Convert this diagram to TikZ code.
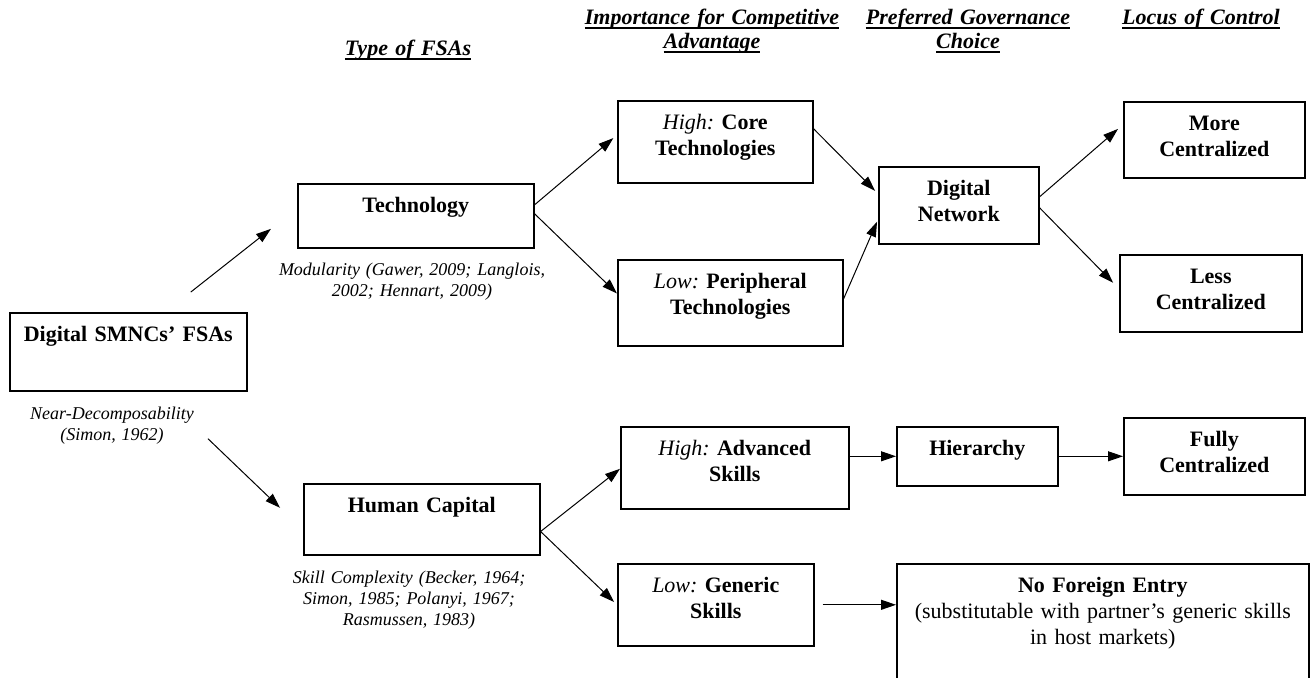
\documentclass[tikz,border=0pt]{standalone}
\usepackage{fontspec}
\setmainfont{Liberation Serif}
\usetikzlibrary{arrows.meta}
\frenchspacing

\newsavebox{\hdbox}
\newcommand{\hd}[1]{\leavevmode\sbox{\hdbox}{\textbf{\textit{#1}}}\rlap{\rule[-1.8pt]{\wd\hdbox}{0.9pt}}\usebox{\hdbox}}

\tikzset{
	fsa/.style={draw=black, line width=0.8pt, inner sep=0pt, align=center, anchor=north west, text height=14.5pt, font=\fontsize{11}{13}\selectfont},
	cite/.style={align=center, anchor=base, text width=150pt, font=\fontsize{9}{10.5}\selectfont\itshape},
	head/.style={align=center, anchor=base, text width=140pt, font=\fontsize{11}{12}\selectfont},
	arr/.style={-{Triangle[length=7.5pt,width=5pt]}, line width=0.5pt}
}

\begin{document}
\begin{tikzpicture}[x=0.5pt, y=-0.5pt]
	\useasboundingbox (0,0) rectangle (1311,678);
	
	\draw (408,56) node[head] (htype) {\hd{Type of FSAs}};
	\draw (712,25) node[head] (himp) {\hd{Importance for Competitive}\\ \hd{Advantage}};
	\draw (968,25) node[head] (hgov) {\hd{Preferred Governance}\\ \hd{Choice}};
	\draw (1201,25) node[head] (hloc) {\hd{Locus of Control}};
	
	\draw (9,312) node[fsa, text width=118.5pt, text depth=24.5pt] (smnc)
	{
		\textbf{Digital SMNCs' FSAs}
	};
	\draw (112,419) node[cite] (csmnc) {Near-Decomposability\\ (Simon, 1962)};
	
	\draw (297,183) node[fsa, text width=118pt, text depth=17.5pt] (tech)
	{
		\textbf{Technology}
	};
	\draw (412,276) node[cite] (ctech) {Modularity (Gawer, 2009; Langlois,\\ 2002; Hennart, 2009)};
	
	\draw (303,483) node[fsa, text width=118pt, text depth=21pt] (human)
	{
		\textbf{Human Capital}
	};
	\draw (409,583) node[cite] (chum) {Skill Complexity (Becker, 1964;\\ Simon, 1985; Polanyi, 1967;\\ Rasmussen, 1983)};
	
	\draw (617,100) node[fsa, text width=97.5pt, text depth=26.5pt] (core)
	{
		\textit{High:} \textbf{Core}\\ \textbf{Technologies}
	};
	\draw (617,259) node[fsa, text width=112.5pt, text depth=28.5pt] (periph)
	{
		\textit{Low:} \textbf{Peripheral}\\ \textbf{Technologies}
	};
	\draw (620,426) node[fsa, text width=114pt, text depth=26.5pt] (adv)
	{
		\textit{High:} \textbf{Advanced}\\ \textbf{Skills}
	};
	\draw (617,563) node[fsa, text width=98pt, text depth=26.5pt] (generic)
	{
		\textit{Low:} \textbf{Generic}\\ \textbf{Skills}
	};
	
	\draw (878,166) node[fsa, text width=80pt, text depth=24pt] (dnet)
	{
		\textbf{Digital}\\ \textbf{Network}
	};
	\draw (896,426) node[fsa, text width=80.5pt, text depth=15pt] (hier)
	{
		\textbf{Hierarchy}
	};
	\draw (896,563) node[fsa, text width=206pt, text depth=55.5pt] (nfe)
	{
		\textbf{No Foreign Entry}\\ (substitutable with partner's generic skills\\ in host markets)
	};
	
	\draw (1123,101) node[fsa, text width=90.5pt, text depth=23.5pt] (more)
	{
		\textbf{More}\\ \textbf{Centralized}
	};
	\draw (1119,254) node[fsa, text width=91pt, text depth=24pt] (less)
	{
		\textbf{Less}\\ \textbf{Centralized}
	};
	\draw (1123,417) node[fsa, text width=90.5pt, text depth=24pt] (fully)
	{
		\textbf{Fully}\\ \textbf{Centralized}
	};
	
	\draw [arr, shorten <=16.1pt, shorten >=16.6pt] ([xshift=18.6pt]smnc.north) -- ([yshift=3.75pt]tech.west);
	\draw [arr, shorten <=34pt, shorten >=15.9pt] ([xshift=15.25pt]smnc.south) -- ([yshift=-5.25pt]human.west);
	
	\draw [arr, shorten >=2.4pt] ([yshift=5.5pt]tech.east) -- ([yshift=3.4pt]core.west);
	\draw [arr] ([yshift=1pt]tech.east) -- ([yshift=4.65pt]periph.west);
	\draw [arr] ([yshift=-6.1pt]human.east) -- ([yshift=-0.5pt]adv.west);
	\draw [arr, shorten >=2pt] ([yshift=-6.1pt]human.east) -- (generic.west);
	
	\draw [arr, shorten >=2.1pt] ([yshift=6.5pt]core.east) -- ([yshift=5.75pt]dnet.west);
	\draw [arr, shorten >=1.2pt] ([yshift=2pt]periph.east) -- ([yshift=-7.1pt]dnet.west);
	\draw [arr] (hier.west -| adv.east) -- (hier.west);
	\draw [arr, shorten <=4pt] (generic.east) -- (generic.east -| nfe.west);
	
	\draw [arr, shorten >=3.3pt] ([yshift=4.25pt]dnet.east) -- ([yshift=7.6pt]more.west);
	\draw [arr, shorten >=4.2pt] ([yshift=-1.25pt]dnet.east) -- ([yshift=2.25pt]less.west);
	\draw [arr] (hier) -- (fully);
\end{tikzpicture}
\end{document}
